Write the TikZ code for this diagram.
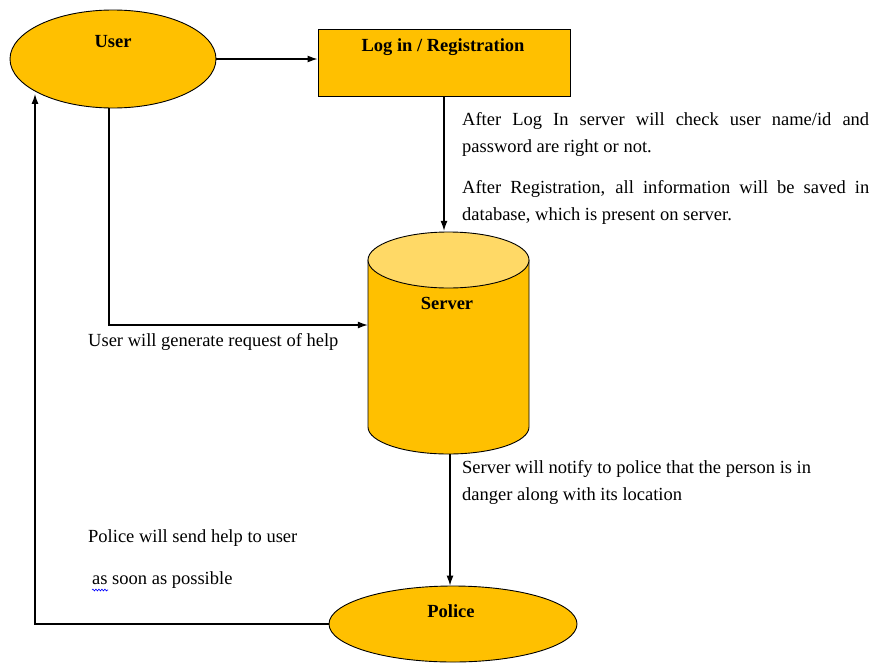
\documentclass[tikz,border=0pt]{standalone}
\usepackage{fontspec}
\setmainfont{Liberation Serif}
\usetikzlibrary{shapes.geometric,arrows.meta,decorations.pathmorphing}
\definecolor{boxfill}{HTML}{FFC000}
\definecolor{toplid}{HTML}{FFD966}
\tikzset{
  shapefill/.style={fill=boxfill, draw=black, line width=0.9pt},
  oval/.style={shapefill, ellipse, inner sep=0pt},
  flow/.style={line width=1.2pt, -{Latex[length=10pt,width=7pt]}},
  title/.style={font=\fontsize{18.5}{22}\selectfont\bfseries, inner sep=0pt},
  note/.style={font=\fontsize{18.5}{27}\selectfont, inner sep=0pt, anchor=base west, align=left},
}
\begin{document}
\begin{tikzpicture}[x=1pt,y=-1pt]
\useasboundingbox (0,0) rectangle (872,664);

% main shapes
\node[oval, minimum width=206pt, minimum height=98pt] (user) at (113,59) {};
\node[title] (userlabel) at (113,42) {User};

\node[shapefill, rectangle, minimum width=252pt, minimum height=67pt, inner sep=0pt] (login) at (444,62.5) {};
\node[title] (loginlabel) at (443,47) {Log in / Registration};

% server drawn as a cylinder
\node[minimum width=161pt, minimum height=223pt, inner sep=0pt] (server) at (448.5,342.5) {};
\path[shapefill] (368,260) -- (368,427) arc (180:0:80.5 and 27) -- (529,260) -- cycle;
\draw[shapefill, fill=toplid] (448.5,260) ellipse (80.5 and 28);
\node[title] (serverlabel) at (447,303) {Server};

\node[oval, minimum width=248pt, minimum height=76pt] (police) at (453,624) {};
\node[title] (policelabel) at (451,611) {Police};

% connectors
\draw[flow] (user.east) -- (user.east -| login.west);
\draw[flow] (login.south) -- (login.south |- server.north);
\coordinate (reqcorner) at (109,325);
\draw[flow] ([xshift=-4pt]user.south) -- (reqcorner) -- (reqcorner -| server.west);
\draw[flow] ([xshift=1.5pt]server.south) -- ([xshift=1.5pt]server.south |- police.north);
\coordinate (backcorner) at (35,624);
\draw[flow] (police.west) -- (backcorner) -- (backcorner |- user.south west);

% annotations
\node[note, text width=407pt, align=justify] (loginnote) at (462,125)
  {After Log In server will check user name/id and\linebreak password are right or not.};
\node[note, text width=407pt, align=justify] (regnote) at (462,193)
  {After Registration, all information will be saved in\linebreak database, which is present on server.};
\node[note] (reqnote) at (88,346) {User will generate request of help};
\node[note] (notifynote) at (462,500) {Server will notify to police that the person is in\\danger along with its location};
\node[note] (helpnote) at (88,542) {Police will send help to user};
\node[note] (asapnote) at (92,584) {as soon as possible};
\draw[blue, line width=0.6pt, decorate, decoration={snake, segment length=3pt, amplitude=0.9pt}] (92,590) -- (108,590);
\end{tikzpicture}
\end{document}
